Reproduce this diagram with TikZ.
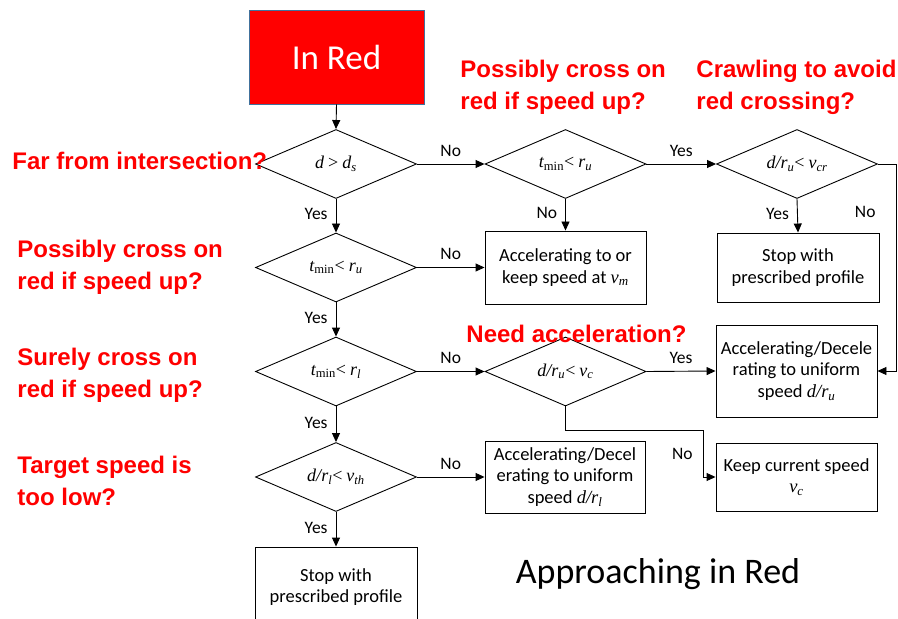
\documentclass[tikz,border=0pt]{standalone}
\usepackage{fontspec}
\setmainfont{Carlito}
\newfontfamily\notefamily{Liberation Sans}
\newfontfamily\mathserif{Liberation Serif}
\usetikzlibrary{shapes.geometric,arrows.meta}
\newcommand\mv[1]{{\mathserif\itshape #1}}
\newcommand\mn[1]{{\mathserif #1}}
\newcommand\flowfont{\fontsize{18.5bp}{21.5bp}\selectfont}
\newcommand\condfont{\fontsize{18bp}{20bp}\selectfont}
\newcommand\notefont{\notefamily\bfseries\fontsize{24bp}{32bp}\selectfont}
\newcommand\labfont{\fontsize{17.5bp}{20bp}\selectfont}
\definecolor{boxblue}{HTML}{41719C}
\tikzset{
  flowbox/.style={draw, rectangle, align=center, font=\flowfont, inner sep=2bp},
  cond/.style={draw, diamond, aspect=2.33, minimum width=161bp, minimum height=69bp, inner sep=0pt, font=\condfont},
  note/.style={anchor=west, align=left, text=red, font=\notefont, inner sep=0pt},
  lab/.style={font=\labfont, inner sep=2bp}
}
\begin{document}
\begin{tikzpicture}[x=1bp,y=-1bp,>={Triangle[length=9bp,width=8bp]},line width=0.9bp]
\useasboundingbox (0,0) rectangle (898,619);
\clip (0,0) rectangle (898,619);
\node[rectangle, draw=boxblue, fill=red, text=white, minimum width=175bp, minimum height=94bp, font=\fontsize{35bp}{40bp}\selectfont] (inred) at (336.5,57) {In Red};

\node[cond] (far) at (336,164) {\mv{d} \mn{>} \mv{d\textsubscript{s}}};
\node[cond] (upfar) at (565.5,164) {\mv{t}\mn{\textsubscript{min}<} \mv{r\textsubscript{u}}};
\node[cond] (crawl) at (797,164) {\mv{d/r\textsubscript{u}}\mn{<} \mv{v\textsubscript{cr}}};
\node[cond] (upnear) at (336,267.5) {\mv{t}\mn{\textsubscript{min}<} \mv{r\textsubscript{u}}};
\node[cond] (sure) at (336,371.5) {\mv{t}\mn{\textsubscript{min}<} \mv{r\textsubscript{l}}};
\node[cond] (acc) at (565.5,371.5) {\mv{d/r\textsubscript{u}}\mn{<} \mv{v\textsubscript{c}}};
\node[cond] (low) at (336,477) {\mv{d/r\textsubscript{l}}\mn{<} \mv{v\textsubscript{th}}};

\node[flowbox, minimum width=162bp, minimum height=69bp] (stoptop) at (798,267.5) {Stop with\\prescribed profile};
\node[flowbox, minimum width=161bp, minimum height=92bp] (unifu) at (796.5,371) {Accelerating/Decele\\rating to uniform\\speed \mv{d/r\textsubscript{u}}};
\node[flowbox, minimum width=161bp, minimum height=68bp] (keep) at (796.5,477) {Keep current speed\\\mv{v\textsubscript{c}}};
\node[flowbox, minimum width=161bp, minimum height=73bp] (vmax) at (565.5,267.5) {Accelerating to or\\keep speed at \mv{v\textsubscript{m}}};
\node[flowbox, minimum width=160bp, minimum height=72bp] (unifl) at (565,477) {Accelerating/Decel\\erating to uniform\\speed \mv{d/r\textsubscript{l}}};
\node[flowbox, minimum width=162bp, minimum height=80bp] (stopbot) at (336,587) {Stop with\\prescribed profile};

\coordinate (bend) at (703,430);

\draw[->] (inred.south) -- (far.north);
\draw[->] (far.east) -- (upfar.west) node[lab, above=5bp, pos=0.5] {No};
\draw[->] (upfar.east) -- (crawl.west) node[lab, above=5bp, pos=0.5] {Yes};
\draw[->] (far.south) -- (upnear.north) node[lab, left=6bp, pos=0.45] {Yes};
\draw[->] (upfar.south) -- (vmax.north) node[lab, left=6bp, pos=0.45] {No};
\draw[->] (crawl.south) -- (stoptop.north) node[lab, left=6bp, pos=0.45] {Yes};
\draw[->] (crawl.east) -- ++(18,0) |- (unifu.east) node[lab, left=18bp, pos=0.115] {No};
\draw[->] (upnear.east) -- (vmax.west) node[lab, above=5bp, pos=0.5] {No};
\draw[->] (upnear.south) -- (sure.north) node[lab, left=6bp, pos=0.45] {Yes};
\draw[->] (sure.east) -- (acc.west) node[lab, above=5bp, pos=0.5] {No};
\draw[->] (acc.east) -- (unifu.west) node[lab, above=5bp, pos=0.5] {Yes};
\draw[->] (acc.south) |- (bend) |- (keep.west) node[lab, left=8bp, pos=0.25] {No};
\draw[->] (sure.south) -- (low.north) node[lab, left=6bp, pos=0.45] {Yes};
\draw[->] (low.east) -- (unifl.west) node[lab, above=5bp, pos=0.5] {No};
\draw[->] (low.south) -- (stopbot.north) node[lab, left=6bp, pos=0.45] {Yes};

\node[note] (farnote) at (12,161) {Far from intersection?};
\node[note] (crossnote) at (17,267.5) {Possibly cross on\\red if speed up?};
\node[note] (surenote) at (17,375) {Surely cross on\\red if speed up?};
\node[note] (lownote) at (17,481) {Target speed is\\too low?};
\node[note] (upnote) at (460,87.5) {Possibly cross on\\red if speed up?};
\node[note] (crawlnote) at (696,87.5) {Crawling to avoid\\red crossing?};
\node[note] (accnote) at (466,334) {Need acceleration?};

\node[font=\fontsize{36bp}{40bp}\selectfont] (title) at (658,574) {Approaching in Red};
\end{tikzpicture}
\end{document}
